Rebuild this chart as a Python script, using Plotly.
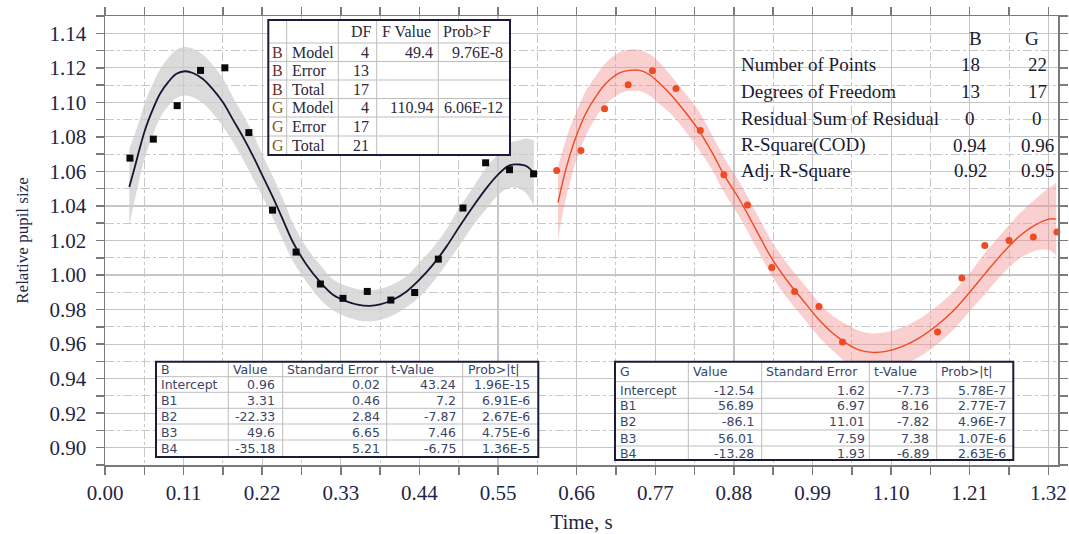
import plotly.graph_objects as go

# ---------------- data ----------------
b_x = [0.0349, 0.0676, 0.101, 0.1337, 0.1677, 0.2013, 0.2344, 0.2674, 0.3014,
       0.333, 0.367, 0.400, 0.4333, 0.4664, 0.5009, 0.5326, 0.566, 0.5997]
b_y = [1.0677, 1.0787, 1.0981, 1.1185, 1.120, 1.0825, 1.0376, 1.0133, 0.9948,
       0.9865, 0.9905, 0.9855, 0.9899, 1.0092, 1.0388, 1.065, 1.061, 1.0586]

b_fit_x = [0.034, 0.042, 0.049, 0.056, 0.065, 0.077, 0.089, 0.100, 0.112, 0.123,
           0.137, 0.151, 0.165, 0.179, 0.193, 0.207, 0.221, 0.235, 0.249, 0.263,
           0.282, 0.301, 0.319, 0.338, 0.355, 0.370, 0.385, 0.403, 0.422, 0.440,
           0.459, 0.478, 0.496, 0.515, 0.534, 0.552, 0.566, 0.580, 0.590, 0.600]
b_fit_y = [1.051, 1.063, 1.074, 1.084, 1.094, 1.105, 1.112, 1.1165, 1.118, 1.117,
           1.1135, 1.1075, 1.100, 1.090, 1.080, 1.069, 1.057, 1.045, 1.032, 1.019,
           1.006, 0.996, 0.9886, 0.9847, 0.9827, 0.9822, 0.983, 0.9857, 0.9905, 0.9973,
           1.006, 1.0166, 1.0281, 1.0397, 1.0505, 1.059, 1.0635, 1.064, 1.063, 1.059]
b_band_hi = [1.073, 1.082, 1.091, 1.100, 1.109, 1.119, 1.126, 1.1305, 1.132, 1.131,
             1.1275, 1.1215, 1.114, 1.103, 1.093, 1.082, 1.069, 1.057, 1.044, 1.030,
             1.016, 1.006, 0.9976, 0.9937, 0.9917, 0.9912, 0.992, 0.9947, 0.9995, 1.0073,
             1.016, 1.0266, 1.0391, 1.0507, 1.0625, 1.071, 1.0765, 1.078, 1.079, 1.078]
b_band_lo = [1.029, 1.044, 1.057, 1.068, 1.079, 1.091, 1.098, 1.1025, 1.104, 1.103,
             1.0995, 1.0935, 1.086, 1.077, 1.067, 1.056, 1.045, 1.033, 1.020, 1.008,
             0.996, 0.986, 0.9796, 0.9757, 0.9737, 0.9732, 0.974, 0.9767, 0.9815, 0.9873,
             0.996, 1.0066, 1.0171, 1.0287, 1.0385, 1.047, 1.0505, 1.050, 1.047, 1.040]

g_x = [0.632, 0.666, 0.699, 0.732, 0.766, 0.799, 0.833, 0.866, 0.899, 0.933,
       0.965, 0.999, 1.032, 1.165, 1.199, 1.231, 1.265, 1.299, 1.332]
g_y = [1.0606, 1.0721, 1.0963, 1.1102, 1.1183, 1.108, 1.0837, 1.0581, 1.0405, 1.0044,
       0.9905, 0.9818, 0.9612, 0.967, 0.9983, 1.0171, 1.020, 1.022, 1.0249]

g_fit_x = [0.634, 0.641, 0.650, 0.659, 0.673, 0.687, 0.701, 0.720, 0.734, 0.748,
           0.762, 0.776, 0.794, 0.813, 0.832, 0.850, 0.866, 0.888, 0.911, 0.934,
           0.957, 0.976, 0.999, 1.018, 1.037, 1.055, 1.074, 1.093, 1.116, 1.139,
           1.162, 1.186, 1.209, 1.232, 1.256, 1.279, 1.302, 1.321, 1.331]
g_fit_y = [1.042, 1.055, 1.0687, 1.080, 1.0938, 1.1034, 1.111, 1.117, 1.1185, 1.1185,
           1.116, 1.111, 1.1034, 1.0938, 1.0831, 1.0706, 1.0581, 1.0436, 1.0262, 1.0089,
           0.9954, 0.9857, 0.9741, 0.9664, 0.9606, 0.9567, 0.9552, 0.9558, 0.9587, 0.9635,
           0.9702, 0.9789, 0.9896, 1.0011, 1.0127, 1.0223, 1.0291, 1.0324, 1.0324]
g_band_hi = [1.063, 1.073, 1.0847, 1.094, 1.1068, 1.1154, 1.123, 1.129, 1.1305, 1.1305,
             1.128, 1.123, 1.1144, 1.1048, 1.0941, 1.0806, 1.0681, 1.0536, 1.0362, 1.0189,
             1.0054, 0.9957, 0.9841, 0.9764, 0.9716, 0.9677, 0.9662, 0.9668, 0.9697, 0.9745,
             0.9812, 0.9899, 1.0006, 1.0131, 1.0247, 1.0353, 1.0441, 1.0504, 1.0534]
g_band_lo = [1.021, 1.037, 1.0527, 1.066, 1.0808, 1.0914, 1.099, 1.105, 1.1065, 1.1065,
             1.104, 1.099, 1.0924, 1.0828, 1.0721, 1.0606, 1.0481, 1.0336, 1.0162, 0.9989,
             0.9854, 0.9757, 0.9641, 0.9564, 0.9496, 0.9457, 0.9442, 0.9448, 0.9477, 0.9525,
             0.9592, 0.9679, 0.9786, 0.9891, 1.0007, 1.0093, 1.0141, 1.0144, 1.0114]

# ANOVA table
anova_header = ["", "", "DF", "F Value", "Prob>F"]
anova_rows = [["B", "Model", "4", "49.4", "9.76E-8"],
              ["B", "Error", "13", "", ""],
              ["B", "Total", "17", "", ""],
              ["G", "Model", "4", "110.94", "6.06E-12"],
              ["G", "Error", "17", "", ""],
              ["G", "Total", "21", "", ""]]

# statistics
stat_labels = ["Number of Points", "Degrees of Freedom", "Residual Sum of Residual",
               "R-Square(COD)", "Adj. R-Square"]
stat_b = ["18", "13", "0", "0.94", "0.92"]
stat_g = ["22", "17", "0", "0.96", "0.95"]

# parameter tables
param_header = ["Value", "Standard Error", "t-Value", "Prob>|t|"]
param_names = ["Intercept", "B1", "B2", "B3", "B4"]
b_params = [["0.96", "0.02", "43.24", "1.96E-15"],
            ["3.31", "0.46", "7.2", "6.91E-6"],
            ["-22.33", "2.84", "-7.87", "2.67E-6"],
            ["49.6", "6.65", "7.46", "4.75E-6"],
            ["-35.18", "5.21", "-6.75", "1.36E-5"]]
g_params = [["-12.54", "1.62", "-7.73", "5.78E-7"],
            ["56.89", "6.97", "8.16", "2.77E-7"],
            ["-86.1", "11.01", "-7.82", "4.96E-7"],
            ["56.01", "7.59", "7.38", "1.07E-6"],
            ["-13.28", "1.93", "-6.89", "2.63E-6"]]

# ---------------- figure ----------------
W, H = 1069, 534
ML, MR, MT, MB = 105, 11, 16, 69
PL, PR, PT, PB = ML, W - MR, MT, H - MB


def fx(px):
    return (px - PL) / (PR - PL)


def fy(py):
    return (PB - py) / (PB - PT)


fig = go.Figure()

# confidence bands
fig.add_trace(go.Scatter(x=b_fit_x, y=b_band_hi, mode="lines", line=dict(width=0, shape="spline"),
                         hoverinfo="skip", showlegend=False))
fig.add_trace(go.Scatter(x=b_fit_x, y=b_band_lo, mode="lines", line=dict(width=0, shape="spline"),
                         fill="tonexty", fillcolor="rgba(205,205,205,0.72)",
                         hoverinfo="skip", showlegend=False))
fig.add_trace(go.Scatter(x=g_fit_x, y=g_band_hi, mode="lines", line=dict(width=0, shape="spline"),
                         hoverinfo="skip", showlegend=False))
fig.add_trace(go.Scatter(x=g_fit_x, y=g_band_lo, mode="lines", line=dict(width=0, shape="spline"),
                         fill="tonexty", fillcolor="rgba(244,140,140,0.42)",
                         hoverinfo="skip", showlegend=False))

# fit curves
fig.add_trace(go.Scatter(x=b_fit_x, y=b_fit_y, mode="lines",
                         line=dict(color="#161632", width=1.8, shape="spline"), showlegend=False))
fig.add_trace(go.Scatter(x=g_fit_x, y=g_fit_y, mode="lines",
                         line=dict(color="#ee4a22", width=1.4, shape="spline"), showlegend=False))

# data points
fig.add_trace(go.Scatter(x=b_x, y=b_y, mode="markers",
                         marker=dict(symbol="square", size=7, color="#0a0a0a"),
                         cliponaxis=False, showlegend=False))
fig.add_trace(go.Scatter(x=g_x, y=g_y, mode="markers",
                         marker=dict(symbol="circle", size=7, color="#ef4a22"),
                         cliponaxis=False, showlegend=False))

tick_font = dict(family="Liberation Serif", size=21, color="#1f2545")
axis_common = dict(
    showline=True, linecolor="#7a7a7a", linewidth=1.5, mirror="ticks",
    ticks="outside", ticklen=8, tickwidth=1.5, tickcolor="#7a7a7a",
    showgrid=True, gridcolor="#c6c6c6", gridwidth=1.2,
    zeroline=False, tickfont=tick_font,
)

fig.update_xaxes(
    range=[0, 1.3335], tick0=0, dtick=0.11, tickformat=".2f",
    minor=dict(dtick=0.055, ticks="outside", ticklen=8, tickwidth=1.5, tickcolor="#7a7a7a",
               showgrid=True, gridcolor="#c8c8c8", gridwidth=1, griddash="dashdot"),
    title=dict(text="Time, s", font=dict(family="Liberation Serif", size=21, color="#1f2545"),
               standoff=10),
    **axis_common,
)
fig.update_yaxes(
    range=[0.89, 1.15], tick0=0.90, dtick=0.02, tickformat=".2f",
    minor=dict(dtick=0.01, ticks="outside", ticklen=8, tickwidth=1.5, tickcolor="#7a7a7a",
               showgrid=True, gridcolor="#c8c8c8", gridwidth=1, griddash="dashdot"),
    ticklabelstandoff=5,
    title=dict(text="Relative pupil size", font=dict(family="Liberation Serif", size=17, color="#1f2545"),
               standoff=16),
    **axis_common,
)

shapes = []
annotations = []

INNER = "#bdbdbd"
OUTER = "#1c1c38"


def add_table(left, right, top, bottom, col_lines, row_lines):
    shapes.append(dict(type="rect", xref="paper", yref="paper", layer="above",
                       x0=fx(left), x1=fx(right), y0=fy(bottom), y1=fy(top),
                       fillcolor="white", line=dict(width=0)))
    for c in col_lines:
        shapes.append(dict(type="line", xref="paper", yref="paper", layer="above",
                           x0=fx(c), x1=fx(c), y0=fy(bottom), y1=fy(top),
                           line=dict(color=INNER, width=1)))
    for r in row_lines:
        shapes.append(dict(type="line", xref="paper", yref="paper", layer="above",
                           x0=fx(left), x1=fx(right), y0=fy(r), y1=fy(r),
                           line=dict(color=INNER, width=1)))
    shapes.append(dict(type="rect", xref="paper", yref="paper", layer="above",
                       x0=fx(left), x1=fx(right), y0=fy(bottom), y1=fy(top),
                       line=dict(color=OUTER, width=2)))


def txt(text, px, py, anchor, font):
    annotations.append(dict(text=text, x=fx(px), y=fy(py), xref="paper", yref="paper",
                            xanchor=anchor, yanchor="middle", showarrow=False, font=font))


# ---- ANOVA table (top middle)
add_table(268.3, 510, 20, 155, [286.7, 338.3, 376.7, 438.3],
          [43, 61.5, 80, 98.5, 117, 136])
serif = dict(family="Liberation Serif", size=16, color="#2a2a3a")
hdr_pos = [None, None, 349, 380, 441]
for i, h in enumerate(anova_header):
    if h:
        txt(h, hdr_pos[i], 31.5, "left", serif)
row_cy = [52.2, 70.7, 89.2, 107.7, 126.5, 145.5]
for r, row in enumerate(anova_rows):
    cy = row_cy[r]
    col = "#6a2a2a" if row[0] == "B" else "#8a5a26"
    txt(row[0], 277.5, cy, "center", dict(family="Liberation Serif", size=16, color=col))
    txt(row[1], 290, cy, "left", serif)
    txt(row[2], 371, cy, "right", serif)
    if row[3]:
        txt(row[3], 435, cy, "right", serif)
    if row[4]:
        txt(row[4], 505, cy, "right", serif)

# ---- statistics (top right, no frame)
sfont = dict(family="Liberation Serif", size=19, color="#1a1a30")
txt("B", 975, 38.5, "center", sfont)
txt("G", 1032, 38.5, "center", sfont)
stat_cy = [65, 91.7, 118.3, 145, 170.7]
for i, lab in enumerate(stat_labels):
    txt(lab, 739, stat_cy[i], "left", sfont)
    txt(stat_b[i], 970, stat_cy[i], "center", sfont)
    txt(stat_g[i], 1037, stat_cy[i], "center", sfont)

# ---- parameter tables
sans = dict(family="DejaVu Sans", size=12.5, color="#3a4566")


def param_table(name, params, left, right, top, bottom, col_lines, row_lines,
                row_cy, hdr_x, val_x):
    add_table(left, right, top, bottom, col_lines, row_lines)
    txt(name, hdr_x[0], row_cy[0], "left", sans)
    for i, h in enumerate(param_header):
        txt(h, hdr_x[i + 1], row_cy[0], "left", sans)
    for r, vals in enumerate(params):
        cy = row_cy[r + 1]
        txt(param_names[r], hdr_x[0], cy, "left", sans)
        for c, v in enumerate(vals):
            txt(v, val_x[c], cy, "right", sans)


param_table("B", b_params, 156, 538.3, 361.7, 457,
            [228.3, 282.7, 386.7, 462.7], [376.7, 392.3, 408.3, 424, 440],
            [369.2, 384.5, 400.3, 416.2, 432, 448.5],
            [158.5, 230.5, 285, 389, 466], [277, 382, 457.5, 531.5])
param_table("G", g_params, 615, 1013.3, 361.7, 460,
            [688.3, 761.7, 869.3, 936.7], [381.7, 398.3, 413.3, 430, 446],
            [371.7, 390, 405.8, 421.7, 438, 453],
            [617.5, 690.5, 764, 871.5, 939], [755.5, 867, 931, 1007.5])

fig.update_layout(
    width=W, height=H, template="none",
    margin=dict(l=ML, r=MR, t=MT, b=MB, autoexpand=False),
    paper_bgcolor="white", plot_bgcolor="white",
    shapes=shapes, annotations=annotations, showlegend=False,
    hovermode=False,
)

fig.write_html(
    "out.html",
    config={"displayModeBar": False, "staticPlot": True},
    post_script="document.body.style.margin='0';document.body.style.overflow='hidden';",
)
